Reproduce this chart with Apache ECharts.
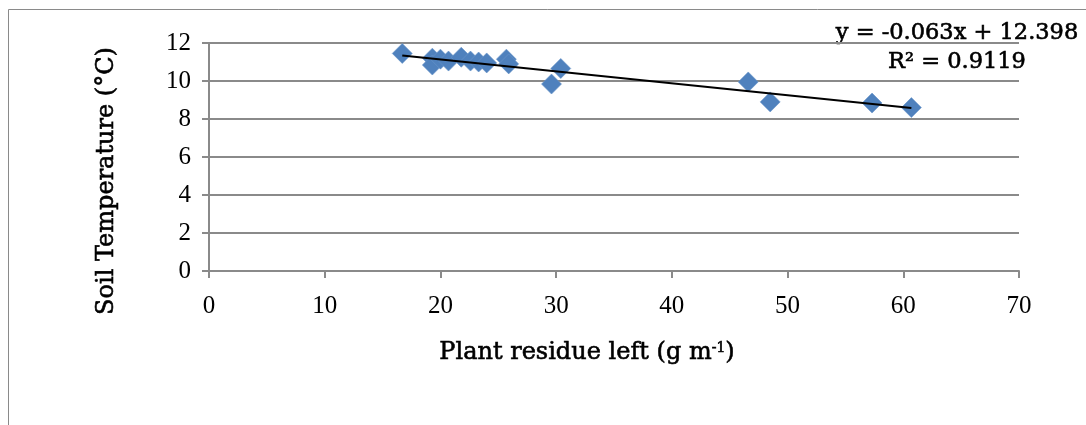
<!DOCTYPE html>
<html>
<head>
<meta charset="utf-8">
<script src="https://cdn.jsdelivr.net/npm/echarts@6/dist/echarts.min.js"></script>
<style>
  html, body { margin: 0; padding: 0; background: #ffffff; }
  #chart { width: 1086px; height: 425px; }
</style>
</head>
<body>
<div id="chart"></div>
<script>
// Plant residue left (g m-1) for each plot
const residue = [16.7, 19.3, 19.3, 20.0, 20.7, 21.8, 22.6, 23.3, 24.0, 25.7, 25.9, 29.6, 30.4, 46.6, 48.5, 57.3, 60.7];
// Soil temperature (°C) measured on the same plots
const soilTemp = [11.45, 11.2, 10.84, 11.15, 11.05, 11.25, 11.05, 11.0, 10.95, 11.15, 10.9, 9.84, 10.66, 9.95, 8.9, 8.84, 8.6];

// Linear trend reported for the data
const slope = -0.063;
const intercept = 12.398;
const rSquared = 0.9119;

const xTicks = [0, 10, 20, 30, 40, 50, 60, 70];
const yTicks = [0, 2, 4, 6, 8, 10, 12];

const points = residue.map((x, i) => [x, soilTemp[i]]);
const xMin = Math.min(...residue);
const xMax = Math.max(...residue);
const trend = [[xMin, slope * xMin + intercept], [xMax, slope * xMax + intercept]];

const gridGray = '#8a8a8a';
const serifTitle = '"DejaVu Serif", serif';
const serifTick = '"Liberation Serif", "Times New Roman", serif';
// slight outline thickens the title strokes
const heavy = { textBorderColor: '#000', textBorderWidth: 0.6 };

const chart = echarts.init(document.getElementById('chart'), null, { renderer: 'canvas' });
chart.setOption({
  animation: false,
  backgroundColor: '#ffffff',
  grid: { left: 209, right: 67, top: 43, bottom: 154 },
  xAxis: {
    type: 'value',
    min: xTicks[0],
    max: xTicks[xTicks.length - 1],
    interval: 10,
    name: '{t|Plant residue left (g m}{s|-1}{t|)}',
    nameLocation: 'middle',
    nameGap: 70,
    nameTextStyle: {
      padding: [0, 54, 0, 0],
      rich: {
        t: Object.assign({ fontFamily: serifTitle, fontSize: 24, color: '#000', verticalAlign: 'bottom' }, heavy),
        s: Object.assign({ fontFamily: serifTitle, fontSize: 14, color: '#000', verticalAlign: 'top', padding: [0, 0, 10, 0] }, heavy)
      }
    },
    axisLine: { show: true, lineStyle: { color: gridGray, width: 2 } },
    axisTick: { show: true, inside: false, length: 7, lineStyle: { color: gridGray, width: 2 } },
    axisLabel: { margin: 23, fontFamily: serifTick, fontSize: 25, color: '#000' },
    splitLine: { show: false }
  },
  yAxis: {
    type: 'value',
    min: yTicks[0],
    max: yTicks[yTicks.length - 1],
    interval: 2,
    name: 'Soil Temperature (°C)',
    nameLocation: 'middle',
    nameRotate: 90,
    nameGap: 90,
    nameTextStyle: Object.assign({ fontFamily: serifTitle, fontSize: 24, color: '#000', padding: [0, 48, 0, 0] }, heavy),
    axisLine: { show: true, lineStyle: { color: gridGray, width: 2 } },
    axisTick: { show: true, inside: false, length: 7, lineStyle: { color: gridGray, width: 2 } },
    axisLabel: { margin: 18, fontFamily: serifTick, fontSize: 25, color: '#000' },
    splitLine: { show: true, lineStyle: { color: gridGray, width: 2 } }
  },
  graphic: [
    {
      type: 'rect',
      shape: { x: 8.5, y: 9.5, width: 1200, height: 600 },
      style: { fill: 'none', stroke: '#8a8a8a', lineWidth: 1 },
      silent: true,
      z: -10
    },
    {
      type: 'text',
      x: 957,
      y: 33,
      style: {
        text: 'y = ' + slope + 'x + ' + intercept,
        fontFamily: serifTitle,
        fontSize: 22.5,
        fill: '#000',
        align: 'center',
        verticalAlign: 'middle',
        stroke: '#000',
        lineWidth: 0.6
      }
    },
    {
      type: 'text',
      x: 957,
      y: 62,
      style: {
        text: 'R² = ' + rSquared,
        fontFamily: serifTitle,
        fontSize: 22.5,
        fill: '#000',
        align: 'center',
        verticalAlign: 'middle',
        stroke: '#000',
        lineWidth: 0.6
      }
    }
  ],
  series: [
    {
      type: 'scatter',
      data: points,
      symbol: 'diamond',
      symbolSize: 20,
      itemStyle: { color: '#4f81bd', opacity: 1, borderColor: '#6a95c9', borderWidth: 0.6 },
      z: 2
    },
    {
      type: 'line',
      data: trend,
      showSymbol: false,
      symbol: 'none',
      lineStyle: { color: '#000', width: 2 },
      z: 3
    }
  ]
});
</script>
</body>
</html>
